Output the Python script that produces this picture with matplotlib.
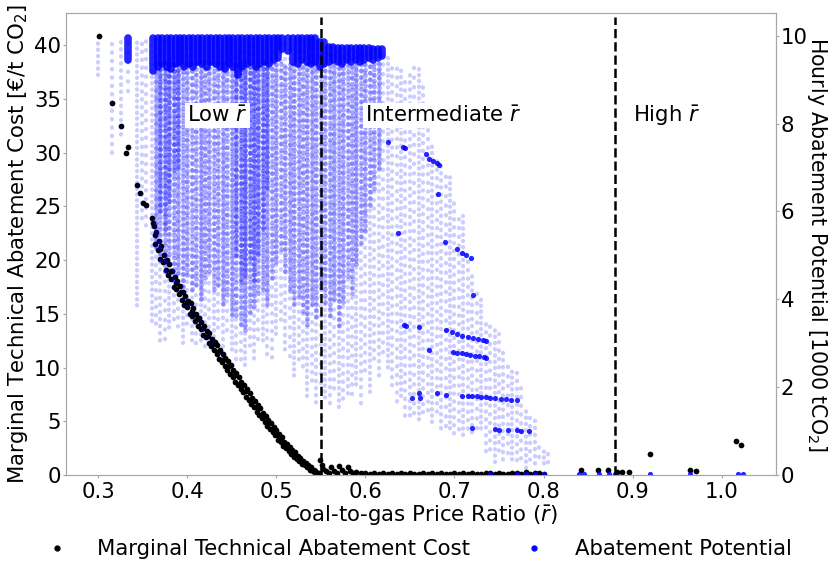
import numpy as np
import matplotlib
matplotlib.use("Agg")
import matplotlib.pyplot as plt
from matplotlib.lines import Line2D

# === Marginal technical abatement cost (left axis, EUR/t CO2) ===
mac_r = [0.301, 0.316, 0.3255, 0.331, 0.334, 0.3435, 0.347, 0.351, 0.3535, 0.361, 0.3625,
         # upper edge of the curve
         0.362, 0.365, 0.368, 0.371, 0.374, 0.377, 0.380, 0.383, 0.386, 0.389, 0.392, 0.395,
         0.398, 0.401, 0.404, 0.407, 0.410, 0.413, 0.416, 0.419, 0.422, 0.425, 0.428, 0.431,
         0.434, 0.437, 0.440, 0.443, 0.446, 0.449, 0.452, 0.455, 0.458, 0.461, 0.464, 0.467,
         0.470, 0.473, 0.476, 0.479, 0.482, 0.485, 0.488, 0.491, 0.494, 0.497, 0.500, 0.503,
         0.506, 0.509, 0.512, 0.515, 0.518, 0.521, 0.524, 0.527, 0.530, 0.533, 0.536, 0.539,
         0.542, 0.545, 0.548,
         # middle of the curve
         0.3635, 0.3695, 0.3755, 0.3815, 0.3875, 0.3935, 0.3995, 0.4055, 0.4115, 0.4175,
         0.4235, 0.4295, 0.4355, 0.4415, 0.4475, 0.4535, 0.4595, 0.4655, 0.4715, 0.4775,
         0.4835, 0.4895, 0.4955, 0.5015, 0.5075, 0.5135, 0.5195, 0.5255, 0.5315, 0.5375,
         0.5435,
         # lower edge of the curve
         0.364, 0.367, 0.370, 0.373, 0.376, 0.379, 0.382, 0.385, 0.388, 0.391, 0.394, 0.397,
         0.400, 0.403, 0.406, 0.409, 0.412, 0.415, 0.418, 0.421, 0.424, 0.427, 0.430, 0.433,
         0.436, 0.439, 0.442, 0.445, 0.448, 0.451, 0.454, 0.457, 0.460, 0.463, 0.466, 0.469,
         0.472, 0.475, 0.478, 0.481, 0.484, 0.487, 0.490, 0.493, 0.496, 0.499, 0.502, 0.505,
         0.508, 0.511, 0.514, 0.517, 0.520, 0.523, 0.526, 0.529, 0.532, 0.535, 0.538, 0.541,
         0.544, 0.547,
         # near-zero tail
         0.549, 0.551, 0.553, 0.556, 0.559, 0.562, 0.565, 0.568, 0.571, 0.574, 0.577, 0.580,
         0.583, 0.586, 0.590, 0.595, 0.600, 0.605, 0.610, 0.615, 0.620, 0.625, 0.630, 0.635,
         0.640, 0.645, 0.650, 0.655, 0.660, 0.665, 0.670, 0.675, 0.680, 0.685, 0.690, 0.695,
         0.700, 0.705, 0.710, 0.715, 0.720, 0.725, 0.730, 0.735, 0.740, 0.745, 0.750, 0.755,
         0.760, 0.765, 0.770, 0.775, 0.780, 0.785, 0.790, 0.795, 0.800,
         # high ratio outliers
         0.842, 0.861, 0.872, 0.882, 0.888, 0.896, 0.919, 0.964, 0.971, 1.016, 1.022]
mac_cost = [40.9, 34.6, 32.5, 30.0, 30.5, 27.0, 26.2, 25.3, 25.1, 23.9, 23.2,
            23.5, 22.6, 21.8, 21.3, 20.5, 20.0, 19.6, 19.0, 18.4, 18.1, 17.6, 17.0,
            16.7, 16.2, 16.0, 15.5, 15.0, 14.6, 14.2, 13.9, 13.4, 13.2, 12.7, 12.4,
            12.1, 11.6, 11.3, 10.9, 10.6, 10.2, 9.8, 9.5, 9.1, 8.7, 8.4, 8.0,
            7.6, 7.2, 6.9, 6.5, 6.2, 5.8, 5.5, 5.1, 4.8, 4.5, 4.2, 3.8,
            3.5, 3.1, 2.9, 2.6, 2.3, 2.1, 1.8, 1.6, 1.3, 1.1, 0.9, 0.7,
            0.5, 0.3, 0.2,
            22.3, 21.0, 19.9, 19.0, 17.9, 17.0, 16.1, 15.3, 14.5, 13.7,
            12.9, 12.2, 11.5, 10.8, 10.1, 9.3, 8.5, 7.8, 7.0, 6.3,
            5.6, 5.0, 4.3, 3.7, 3.1, 2.5, 2.0, 1.5, 1.1, 0.7,
            0.35,
            21.5, 20.9, 20.1, 19.8, 19.1, 18.6, 18.2, 17.5, 17.3, 16.8, 16.3, 15.8,
            15.6, 15.0, 14.8, 14.3, 13.9, 13.6, 13.0, 12.8, 12.3, 12.0, 11.6, 11.3,
            10.8, 10.5, 10.1, 9.8, 9.4, 9.1, 8.7, 8.4, 8.0, 7.7, 7.3, 7.0,
            6.6, 6.3, 5.9, 5.6, 5.3, 4.9, 4.6, 4.3, 4.0, 3.7, 3.3, 3.1,
            2.7, 2.5, 2.2, 2.0, 1.7, 1.5, 1.3, 1.0, 0.9, 0.7, 0.5, 0.4,
            0.2, 0.1,
            1.4, 0.9, 0.6, 0.4, 0.2, 0.7, 0.4, 0.2, 0.8, 0.5, 0.2, 0.7,
            0.4, 0.2, 0.3, 0.15, 0.2, 0.1, 0.15, 0.1, 0.15, 0.1, 0.2, 0.1,
            0.15, 0.1, 0.2, 0.1, 0.1, 0.15, 0.1, 0.2, 0.1, 0.15, 0.1, 0.1,
            0.15, 0.1, 0.2, 0.1, 0.15, 0.1, 0.1, 0.2, 0.15, 0.1, 0.2, 0.1,
            0.1, 0.15, 0.2, 0.1, 0.25, 0.1, 0.15, 0.2, 0.1,
            0.45, 0.45, 0.45, 0.3, 0.3, 0.3, 1.95, 0.45, 0.35, 3.15, 2.8]

# === Hourly abatement potential (right axis, 1000 tCO2) ===
# sparse spread of hourly values per price-ratio column
col_r = [0.300, 0.316, 0.326, 0.334, 0.344, 0.349, 0.354,
         0.360, 0.365, 0.370, 0.375, 0.380, 0.385, 0.390, 0.395, 0.400, 0.405, 0.410, 0.415,
         0.420, 0.425, 0.430, 0.435, 0.440, 0.445, 0.450, 0.455, 0.460, 0.465, 0.470, 0.475,
         0.480, 0.485, 0.490, 0.495, 0.500, 0.505, 0.510, 0.515, 0.520, 0.525, 0.530, 0.535,
         0.540, 0.545, 0.550, 0.555, 0.560, 0.565, 0.570, 0.575, 0.580, 0.585, 0.590, 0.595,
         0.600, 0.605, 0.610, 0.615, 0.620, 0.625, 0.630, 0.635, 0.640, 0.645, 0.650, 0.655,
         0.660, 0.665, 0.670, 0.675, 0.680, 0.685, 0.690, 0.695, 0.700, 0.705, 0.710, 0.715,
         0.720, 0.725, 0.730, 0.735, 0.740, 0.745, 0.750, 0.755, 0.760, 0.765, 0.770, 0.775,
         0.780, 0.785, 0.790, 0.795, 0.800, 0.805]
col_lo = [9.1, 7.2, 7.7, 8.55, 3.8, 5.8, 5.5,
          3.5, 3.3, 3.0, 2.9, 3.3, 3.5, 3.2, 3.0, 3.3, 3.0, 2.8, 3.0,
          2.9, 2.8, 3.0, 3.2, 2.7, 3.1, 2.8, 2.6, 2.45, 2.5, 2.8, 2.6,
          2.9, 3.0, 2.7, 2.5, 3.2, 3.4, 2.8, 2.5, 2.2, 2.6, 2.3, 1.8,
          2.0, 1.6, 1.9, 1.7, 1.6, 1.8, 1.55, 1.6, 1.8, 1.65, 2.0, 1.6,
          2.2, 1.9, 2.5, 2.2, 2.6, 2.4, 2.0, 1.5, 1.8, 1.2, 1.3, 1.2,
          1.2, 1.4, 1.3, 1.2, 1.3, 1.0, 0.9, 1.0, 0.9, 0.86, 0.9, 0.9,
          0.9, 0.86, 1.0, 0.5, 0.4, 0.3, 0.4, 0.3, 0.3, 0.3, 0.3, 0.2,
          0.15, 0.2, 0.2, 0.2, 0.2, 0.25]
col_hi = [9.95, 9.9, 9.9, 9.95, 9.95, 9.95, 9.95,
          9.95, 9.95, 9.95, 9.95, 9.95, 9.95, 9.95, 9.95, 9.95, 9.95, 9.95, 9.95,
          9.95, 9.95, 9.95, 9.95, 9.95, 9.95, 9.95, 9.95, 9.95, 9.95, 9.95, 9.95,
          9.95, 9.95, 9.95, 9.95, 9.95, 9.95, 9.95, 9.95, 9.95, 9.95, 9.95, 9.95,
          9.95, 9.95, 9.85, 9.85, 9.8, 9.75, 9.75, 9.75, 9.75, 9.75, 9.75, 9.75,
          9.75, 9.75, 9.75, 9.75, 9.7, 9.6, 9.3, 9.4, 9.3, 9.1, 9.2, 9.4,
          9.3, 9.0, 7.9, 7.6, 7.3, 7.1, 6.9, 6.8, 6.2, 6.0, 5.9, 5.0,
          4.6, 4.3, 4.0, 3.6, 3.4, 3.3, 3.2, 2.9, 2.6, 2.45, 2.45, 2.0,
          1.5, 1.4, 1.3, 0.75, 0.6, 0.5]

# medium-density part of the columns
mid_r = [0.365, 0.370, 0.375, 0.380, 0.385, 0.390, 0.395, 0.400, 0.405, 0.410, 0.415,
         0.420, 0.425, 0.430, 0.435, 0.440, 0.445, 0.450, 0.455, 0.460, 0.465, 0.470,
         0.475, 0.480, 0.485, 0.490, 0.495, 0.500, 0.505, 0.510, 0.515, 0.520, 0.525,
         0.530, 0.535, 0.540, 0.545, 0.550, 0.555, 0.560, 0.565, 0.570, 0.575, 0.580,
         0.585, 0.590, 0.595, 0.600, 0.605, 0.610, 0.615]
mid_lo = [5.2, 4.8, 4.6, 4.9, 4.4, 4.6, 4.2, 4.5, 4.1, 4.3, 4.0,
          4.4, 4.6, 4.1, 4.3, 3.9, 4.0, 3.6, 3.5, 3.4, 3.3, 3.6,
          3.8, 4.0, 4.2, 3.9, 4.4, 4.8, 5.0, 4.6, 4.2, 3.8, 4.0,
          3.6, 3.4, 3.9, 3.5, 4.2, 3.8, 3.6, 4.0, 3.3, 3.9, 4.4,
          4.1, 4.8, 5.2, 5.5, 6.0, 6.5, 7.0]
mid_hi = 9.4

# densest part of the columns
dense_r = [0.370, 0.375, 0.380, 0.385, 0.390, 0.455, 0.460, 0.465, 0.470, 0.475, 0.480,
           0.485, 0.490]
dense_lo = [6.0, 5.5, 6.2, 6.8, 7.0, 5.0, 4.3, 4.5, 4.8, 4.4, 5.0, 5.5, 6.5]
dense_hi = 9.4

# saturated band of hours at (near) full potential
band_r = [0.334, 0.362, 0.367, 0.372, 0.377, 0.382, 0.387, 0.392, 0.397, 0.402, 0.407,
          0.412, 0.417, 0.422, 0.427, 0.432, 0.437, 0.442, 0.447, 0.452, 0.457, 0.462,
          0.467, 0.472, 0.477, 0.482, 0.487, 0.492, 0.497, 0.502, 0.507, 0.513, 0.519,
          0.524, 0.529, 0.534, 0.539, 0.544, 0.549, 0.554, 0.559, 0.564, 0.569, 0.574,
          0.579, 0.584, 0.589, 0.594, 0.599, 0.604, 0.609, 0.614, 0.619]
band_lo = [9.45, 9.2, 9.3, 9.35, 9.3, 9.25, 9.35, 9.4, 9.3, 9.35, 9.3,
           9.4, 9.35, 9.3, 9.4, 9.35, 9.3, 9.25, 9.35, 9.3, 9.1, 9.3,
           9.35, 9.4, 9.3, 9.35, 9.4, 9.35, 9.45, 9.5, 9.7, 9.65, 9.4,
           9.35, 9.45, 9.4, 9.35, 9.4, 9.3, 9.35, 9.4, 9.45, 9.4, 9.35,
           9.45, 9.4, 9.45, 9.4, 9.45, 9.5, 9.45, 9.5, 9.55]
band_hi = [9.95, 9.95, 9.95, 9.95, 9.95, 9.95, 9.95, 9.95, 9.95, 9.95, 9.95,
           9.95, 9.95, 9.95, 9.95, 9.95, 9.95, 9.95, 9.95, 9.95, 9.95, 9.95,
           9.95, 9.95, 9.95, 9.95, 9.95, 9.95, 9.95, 9.95, 9.95, 9.95, 9.95,
           9.95, 9.95, 9.95, 9.95, 9.95, 9.85, 9.85, 9.75, 9.75, 9.72, 9.72,
           9.72, 9.72, 9.72, 9.72, 9.72, 9.72, 9.7, 9.7, 9.7]

# repeated hourly values (solid streaks) and near-zero hours
streak_r = [0.626, 0.642, 0.645, 0.637, 0.643, 0.646, 0.660, 0.671, 0.668, 0.672, 0.676,
            0.680, 0.683, 0.682, 0.661, 0.689, 0.703, 0.708, 0.713, 0.719, 0.691, 0.697,
            0.703, 0.709, 0.715, 0.721, 0.727, 0.732, 0.736, 0.698, 0.703, 0.708, 0.713,
            0.718, 0.723, 0.728, 0.733, 0.736, 0.681, 0.691, 0.709, 0.715, 0.720, 0.725,
            0.730, 0.735, 0.740, 0.745, 0.752, 0.758, 0.764, 0.770, 0.745, 0.750, 0.760,
            0.770, 0.775, 0.784, 0.720, 0.652, 0.660, 0.721,
            0.740, 0.770, 0.780, 0.790, 0.800, 0.840, 0.845, 0.862, 0.874, 0.880, 0.920,
            0.964, 1.018, 1.024]
streak_v = [7.58, 7.47, 7.45, 5.5, 3.42, 3.40, 3.37, 2.85, 7.3, 7.2, 7.15,
            7.1, 7.05, 6.4, 1.76, 5.3, 5.14, 5.05, 5.0, 4.93, 3.3, 3.25,
            3.2, 3.17, 3.14, 3.12, 3.1, 3.07, 3.05, 2.8, 2.78, 2.77, 2.75,
            2.73, 2.71, 2.7, 2.68, 2.67, 1.86, 1.83, 1.81, 1.8, 1.8, 1.79,
            1.78, 1.77, 1.76, 1.75, 1.74, 1.73, 1.71, 1.7, 1.04, 1.03, 1.02,
            1.02, 1.01, 1.0, 1.06, 1.75, 1.86, 4.1,
            0.02, 0.03, 0.02, 0.03, 0.02, 0.02, 0.02, 0.02, 0.02, 0.02, 0.02,
            0.02, 0.02, 0.02]

regime_bounds = [0.55, 0.88]
regime_labels = ["Low $\\bar{r}$", "Intermediate $\\bar{r}$", "High $\\bar{r}$"]
regime_label_r = [0.40, 0.60, 0.90]

FS = 15.3
plt.rcParams["font.size"] = FS
GRAY = "#a6a6a6"

fig = plt.figure(figsize=(8.29, 5.65), dpi=100)
ax = fig.add_axes([0.0796, 0.1593, 0.8565, 0.8177])
ax2 = ax.twinx()

# black MAC points
ax.scatter(mac_r, mac_cost, s=17, color="black", lw=0, zorder=3)

# blue cloud of hourly potentials
dots = [(0.0, (0.1, 1.4)), (0.5, (0.1, 1.9)), (1.1, (0.1, 1.6)), (0.2, (0.1, 2.2)),
        (0.8, (0.1, 1.3)), (1.5, (0.1, 1.8)), (0.3, (0.1, 2.0))]
beads = [(0.0, (0.1, 0.9)), (0.4, (0.1, 1.2)), (0.7, (0.1, 1.0)), (0.2, (0.1, 1.3)),
         (0.9, (0.1, 1.1))]
ax2.vlines(col_r, col_lo, col_hi, colors="blue", alpha=0.2, lw=3.0,
           linestyles=dots, capstyle="round")
ax2.vlines(mid_r, mid_lo, mid_hi, colors="blue", alpha=0.34, lw=3.4,
           linestyles=beads, capstyle="round")
ax2.vlines(dense_r, dense_lo, dense_hi, colors="blue", alpha=0.34, lw=3.4,
           linestyles=beads, capstyle="round")
ax2.vlines(band_r, band_lo, band_hi, colors="blue", alpha=0.85, lw=5.5, capstyle="round")
ax2.scatter(streak_r, streak_v, s=14, color="blue", alpha=0.85, lw=0)

# regime boundaries and labels
ax2.vlines(regime_bounds, 0, 10.42, colors="black", linestyles="--", lw=1.8, zorder=5)
for r, lab in zip(regime_label_r, regime_labels):
    ax2.text(r, 8.18, lab, ha="left", va="center", fontsize=FS, zorder=6,
             bbox=dict(facecolor="white", edgecolor="none", pad=1.5))

ax.set_xlim(0.264, 1.061)
ax.set_ylim(0, 43.0)
ax2.set_ylim(0, 10.52)
ax.set_xticks([0.3, 0.4, 0.5, 0.6, 0.7, 0.8, 0.9, 1.0])
ax.set_yticks([0, 5, 10, 15, 20, 25, 30, 35, 40])
ax2.set_yticks([0, 2, 4, 6, 8, 10])

ax.set_xlabel("Coal-to-gas Price Ratio ($\\bar{r}$)", labelpad=1)
ax.set_ylabel("Marginal Technical Abatement Cost [€/t CO$_2$]", labelpad=3)
ax2.set_ylabel("Hourly Abatement Potential [1000 tCO$_2$]", rotation=270,
               labelpad=15, fontsize=14.8)

for a in (ax, ax2):
    for s in a.spines.values():
        s.set_color(GRAY)
    a.tick_params(axis="y", color=GRAY, length=2.5, width=0.8, pad=1.0, labelsize=FS)
ax.tick_params(axis="x", color=GRAY, length=2.5, width=0.8, pad=2.5, labelsize=FS)

handles = [Line2D([], [], ls="none", marker="o", ms=3.5, color="black"),
           Line2D([], [], ls="none", marker="o", ms=3.5, color="blue")]
fig.legend(handles, ["Marginal Technical Abatement Cost", "Abatement Potential"],
           loc="center", bbox_to_anchor=(0.499, 0.028), ncol=2, frameon=False,
           fontsize=15.3, handletextpad=0.9, columnspacing=2.0)

fig.savefig("out.png", dpi=100)
